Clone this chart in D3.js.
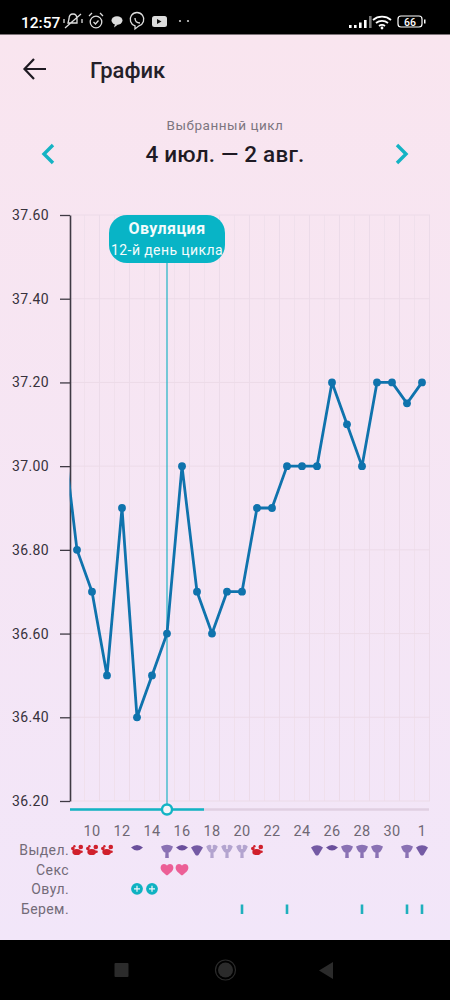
<!DOCTYPE html>
<html><head><meta charset="utf-8">
<script src="https://cdn.jsdelivr.net/npm/d3@7/dist/d3.min.js"></script>
<style>
html,body{margin:0;padding:0;background:#000;width:450px;height:1000px;overflow:hidden}
svg{display:block}
text{font-family:Roboto,"Noto Sans",sans-serif}
</style></head><body>
<svg id="c" width="450" height="1000" viewBox="0 0 450 1000"></svg>
<script>
const days=["8","9","10","11","12","13","14","15","16","17","18","19","20","21","22","23","24","25","26","27","28","29","30","31","1"];
const temps=[37.10,36.80,36.70,36.50,36.90,36.40,36.50,36.60,37.00,36.70,36.60,36.70,36.70,36.90,36.90,37.00,37.00,37.00,37.20,37.10,37.00,37.20,37.20,37.15,37.20];
const yTicks=[36.2,36.4,36.6,36.8,37.0,37.2,37.4,37.6];
const xLabels=["10","12","14","16","18","20","22","24","26","28","30","1"];
const rowLabels=["Выдел.","Секс","Овул.","Берем."];
const dischargeDays=["9","10","11","13","15","16","17","18","19","20","21","25","26","27","28","29","31","1"];
const dischargeKinds=["blood","blood","blood","eye","mush","eye","fan","light","light","light","blood","fan","eye","mush","mush","mush","mush","fan"];
const sexDays=["15","16"];
const ovulationDays=["13","14"];
const pregnancyDays=["20","23","28","31","1"];
const ovulationDay="15";
const sliderEnd="17";

const svg=d3.select("#c");
const defs=svg.append("defs");
const g0=defs.append("linearGradient").attr("id","bg").attr("x1",0).attr("y1",0).attr("x2",0).attr("y2",1);
g0.append("stop").attr("offset","0").attr("stop-color","#f9e5ef");
g0.append("stop").attr("offset","1").attr("stop-color","#f2e6f9");
defs.append("clipPath").attr("id","plot").append("rect").attr("x",69.5).attr("y",200).attr("width",361).attr("height",620);

const x=d3.scalePoint().domain(days).range([62,422]);
const y=d3.scaleLinear().domain([36.2,37.6]).range([801,215]);
const rowY=d3.scalePoint().domain(rowLabels).range([850,909]);
const step=x.step();

svg.append("rect").attr("width",450).attr("height",1000).attr("fill","#000");
svg.append("rect").attr("y",34.5).attr("width",450).attr("height",905.5).attr("fill","url(#bg)");

// status bar
const sb=svg.append("g").attr("fill","#fff");
sb.append("text").attr("x",21).attr("y",28).attr("font-size",15.5).attr("font-weight",500).text("12:57");
const ic=svg.append("g").attr("fill","none").attr("stroke","#ddd").attr("stroke-width",1.3);
ic.append("path").attr("d","M69 19 q0-5 4-5 q4 0 4 5 v4 h-9 z M65 28 L81 14 M64 19v4M82 19v4");
ic.append("circle").attr("cx",96).attr("cy",22).attr("r",5.8);
ic.append("path").attr("d","M89 16l3-3M103 16l-3-3M93.5 22l2 2l3-3.5");
svg.append("ellipse").attr("cx",117).attr("cy",20.5).attr("rx",5.5).attr("ry",4.2).attr("fill","#ddd");
svg.append("path").attr("d","M115 24l-1 3.5l4-3z").attr("fill","#ddd");
ic.append("path").attr("d","M135 29v-3.2a6.8 6.8 0 1 1 4 0z");
ic.append("path").attr("d","M135 18q0 5 5 5");
svg.append("rect").attr("x",152).attr("y",16).attr("width",15).attr("height",11).attr("rx",2.5).attr("fill","#ddd");
svg.append("path").attr("d","M157 19l4.5 2.5l-4.5 2.5z").attr("fill","#111");
svg.append("circle").attr("cx",180).attr("cy",21).attr("r",1.1).attr("fill","#ccc");
svg.append("circle").attr("cx",188).attr("cy",21).attr("r",1.1).attr("fill","#ccc");
[[349,26,2],[354,24,2],[359,21,4.5],[364,19,7],[369,16,11]].forEach((d,i)=>svg.append("rect").attr("x",d[0]).attr("y",27-d[2]).attr("width",2.6).attr("height",d[2]+1).attr("fill",i==4?"#777":"#fff"));
const wf=svg.append("g").attr("fill","none").attr("stroke","#fff").attr("stroke-width",1.8);
wf.append("path").attr("d","M373 20a14 14 0 0 1 18 0M376 23a9.5 9.5 0 0 1 12 0M379 26a5 5 0 0 1 6 0");
svg.append("circle").attr("cx",382).attr("cy",28).attr("r",1.4).attr("fill","#fff");
svg.append("rect").attr("x",398).attr("y",16).attr("width",24).attr("height",11).attr("rx",3).attr("fill","none").attr("stroke","#fff").attr("stroke-width",1.2);
svg.append("rect").attr("x",424).attr("y",19.5).attr("width",1.5).attr("height",4).attr("fill","#fff");
svg.append("text").attr("x",410).attr("y",25.5).attr("text-anchor","middle").attr("font-size",10.5).attr("font-weight",500).attr("fill","#fff").text("66");

// header
svg.append("path").attr("d","M46 69H25M34 59L24.5 69L34 79").attr("fill","none").attr("stroke","#1e1a22").attr("stroke-width",2.2);
svg.append("text").attr("x",90).attr("y",78).attr("font-size",22).attr("font-weight",500).attr("fill","#241f29").text("График");
svg.append("text").attr("x",225).attr("y",130).attr("text-anchor","middle").attr("font-size",13.5).attr("letter-spacing",.55).attr("fill","#7d7680").text("Выбранный цикл");
svg.append("text").attr("x",225).attr("y",162).attr("text-anchor","middle").attr("font-size",22.5).attr("letter-spacing",.2).attr("font-weight",500).attr("fill","#1f1a24").text("4 июл. — 2 авг.");
svg.append("path").attr("d","M53 145L44 154L53 163").attr("fill","none").attr("stroke","#14b3c4").attr("stroke-width",3.4);
svg.append("path").attr("d","M397 145L406 154L397 163").attr("fill","none").attr("stroke","#14b3c4").attr("stroke-width",3.4);

// grid
const gridEdges=d3.range(days.length).map(i=>x(days[i])+step/2);
svg.append("g").selectAll("line").data(gridEdges.filter(v=>v>70)).join("line")
  .attr("x1",d=>d).attr("x2",d=>d).attr("y1",215).attr("y2",801)
  .attr("stroke",(d,i)=>i%2?"#ecdbe9":"#f0e0ec").attr("stroke-width",1);
svg.append("g").selectAll("line").data(yTicks).join("line")
  .attr("x1",70).attr("x2",430).attr("y1",d=>y(d)).attr("y2",d=>y(d))
  .attr("stroke","#ecdbe8").attr("stroke-width",1);

// y axis
const ya=svg.append("g").attr("transform","translate(70,0)").call(d3.axisLeft(y).tickValues(yTicks).tickFormat(d3.format(".2f")).tickSize(10).tickSizeOuter(0).tickPadding(11));
ya.select(".domain").attr("stroke","#3f3a44").attr("stroke-width",1.6);
ya.selectAll(".tick line").attr("stroke","#3f3a44").attr("stroke-width",1.3);
ya.selectAll("text").attr("font-size",14).attr("letter-spacing",.35).attr("fill","#37323c").attr("font-family","Roboto");

// ovulation line
svg.append("line").attr("x1",x(ovulationDay)).attr("x2",x(ovulationDay)).attr("y1",262).attr("y2",806).attr("stroke","#1fb3c4").attr("stroke-width",1.2);

// line
const plot=svg.append("g").attr("clip-path","url(#plot)");
plot.append("path").datum(temps).attr("fill","none").attr("stroke","#0f73ad").attr("stroke-width",2.8).attr("stroke-linejoin","round")
 .attr("d",d3.line().x((d,i)=>x(days[i])).y(d=>y(d)));
plot.selectAll("circle").data(temps).join("circle").attr("cx",(d,i)=>x(days[i])).attr("cy",d=>y(d)).attr("r",3.9).attr("fill","#0f73ad");

// callout
const cx=x(ovulationDay);
svg.append("rect").attr("x",cx-58).attr("y",215).attr("width",116).attr("height",48).attr("rx",18).attr("fill","#08b4c6");
svg.append("text").attr("x",cx).attr("y",234).attr("text-anchor","middle").attr("font-size",16).attr("font-weight",700).attr("letter-spacing",.45).attr("fill","#f4fbfc").text("Овуляция");
svg.append("text").attr("x",cx).attr("y",255).attr("text-anchor","middle").attr("font-size",14).attr("letter-spacing",.4).attr("fill","#f4fbfc").text("12-й день цикла");

// slider
svg.append("line").attr("x1",70).attr("x2",429).attr("y1",809.5).attr("y2",809.5).attr("stroke","#e0cfe2").attr("stroke-width",2.4);
svg.append("line").attr("x1",70).attr("x2",x(sliderEnd)+7).attr("y1",809.5).attr("y2",809.5).attr("stroke","#12b4c5").attr("stroke-width",2.4);
svg.append("circle").attr("cx",cx).attr("cy",809.5).attr("r",5).attr("fill","#f3f5f8").attr("stroke","#12b4c5").attr("stroke-width",2.4);

// x labels
svg.append("g").selectAll("text").data(xLabels).join("text")
 .attr("x",d=>x(d)).attr("y",836).attr("text-anchor","middle").attr("font-size",14.5).attr("letter-spacing",.4).attr("fill","#6f6874").text(d=>d);

// row labels
svg.append("g").selectAll("text").data(rowLabels).join("text")
 .attr("x",69).attr("y",d=>rowY(d)+5).attr("text-anchor","end").attr("font-size",14).attr("letter-spacing",.4).attr("fill","#736b78").text(d=>d);

// icons
const row0=rowY(rowLabels[0]);
function drawIcon(kind,g){
  if(kind==="blood"){
    g.append("ellipse").attr("cx",-.3).attr("cy",2).attr("rx",4.4).attr("ry",3.1).attr("fill","#d0202c");
    g.append("circle").attr("cx",-4.2).attr("cy",-1.4).attr("r",1.8).attr("fill","#d0202c");
    g.append("circle").attr("cx",3.8).attr("cy",-3).attr("r",2.3).attr("fill","#d0202c");
    g.append("circle").attr("cx",-2.6).attr("cy",-3.7).attr("r",1.2).attr("fill","#d0202c");
    g.append("circle").attr("cx",4.5).attr("cy",1.8).attr("r",1.3).attr("fill","#d0202c");
  } else if(kind==="eye"){
    g.append("path").attr("d","M-6 -2.5Q0 -7.5 6 -2.5Q0 3.5 -6 -2.5Z").attr("fill","#6a4f9c");
  } else if(kind==="fan"){
    g.append("path").attr("d","M-6 -2.5Q0 -7 6 -2.5L1.5 5Q0 6 -1.5 5Z").attr("fill","#745aa4");
  } else {
    const col=kind==="mush"?"#8a72b4":"#b3a4cf";
    g.append("path").attr("d",kind==="mush"
      ?"M-6 -3.5Q0 -7 6 -3.5Q4 2.5 1.6 2.5L1.8 8H-1.8L-1.6 2.5Q-4 2.5 -6 -3.5Z"
      :"M-5.8 -3.5Q-2.8 -6.5 -0.7 -4.5L-0.8 -1L0.8 -1L0.7 -4.5Q2.8 -6.5 5.8 -3.5Q3.5 2.5 1.5 2.5L1.7 8H-1.7L-1.5 2.5Q-3.5 2.5 -5.8 -3.5Z").attr("fill",col);
  }
}
svg.append("g").selectAll("g").data(dischargeDays).join("g")
 .attr("transform",d=>`translate(${x(d)},${row0})`)
 .each(function(d,i){drawIcon(dischargeKinds[i],d3.select(this));});

// hearts
svg.append("g").selectAll("path").data(sexDays).join("path")
 .attr("transform",d=>`translate(${x(d)},${rowY("Секс")})`)
 .attr("d","M0 5.8C-3 3.5 -6.4 1 -6.4 -2C-6.4 -4.6 -4.4 -5.6 -3 -5.6C-1.6 -5.6 -.5 -4.8 0 -3.8C.5 -4.8 1.6 -5.6 3 -5.6C4.4 -5.6 6.4 -4.6 6.4 -2C6.4 1 3 3.5 0 5.8Z")
 .attr("fill","#ec5f96");

// ovulation circles
const ov=svg.append("g").selectAll("g").data(ovulationDays).join("g").attr("transform",d=>`translate(${x(d)},${rowY("Овул.")-.5})`);
ov.append("circle").attr("r",5.9).attr("fill","#0fb2c2");
ov.append("path").attr("d","M-3 0H3M0 -3V3").attr("stroke","#f3f5f8").attr("stroke-width",1.2);

// pregnancy
svg.append("g").selectAll("line").data(pregnancyDays).join("line")
 .attr("x1",d=>x(d)).attr("x2",d=>x(d)).attr("y1",rowY("Берем.")-4.5).attr("y2",rowY("Берем.")+5)
 .attr("stroke","#1fb0bd").attr("stroke-width",2.6);

// nav bar
svg.append("rect").attr("x",114.5).attr("y",963).attr("width",14).attr("height",14).attr("rx",1).attr("fill","#2b2b2b");
svg.append("circle").attr("cx",225.5).attr("cy",970).attr("r",10).attr("fill","none").attr("stroke","#2b2b2b").attr("stroke-width",1.2);
svg.append("circle").attr("cx",225.5).attr("cy",970).attr("r",7.5).attr("fill","#2b2b2b");
svg.append("path").attr("d","M333 962V979L319 970.5Z").attr("fill","#2b2b2b");
</script></body></html>
